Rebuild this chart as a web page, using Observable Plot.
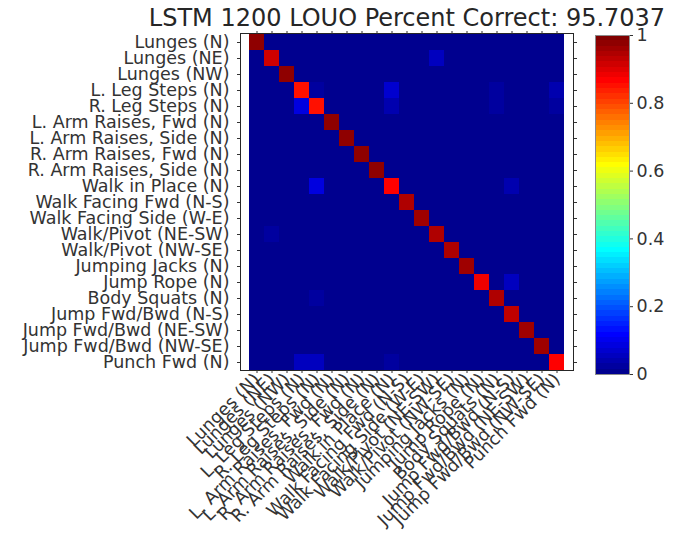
<!DOCTYPE html>
<html>
<head>
<meta charset="utf-8">
<script src="https://cdn.jsdelivr.net/npm/d3@7"></script>
<script src="https://cdn.jsdelivr.net/npm/@observablehq/plot@0.6"></script>
<style>
  html, body { margin: 0; padding: 0; background: #fff; }
  #wrap { position: relative; width: 687px; height: 543px; overflow: hidden; font-family: "DejaVu Sans", sans-serif; }
  #title { position: absolute; left: 107px; width: 600px; top: 4px; text-align: center; font-size: 24px; color: #262626; white-space: nowrap; }
  #main { position: absolute; left: 0; top: 0; }
  #cbar { position: absolute; left: 590px; top: 0; }
</style>
</head>
<body>
<div id="wrap">
  <div id="main"></div>
  <div id="cbar"></div>
  <div id="title"></div>
</div>
<script>
const titleText = "LSTM 1200 LOUO Percent Correct: 95.7037";
const labels = [
  "Lunges (N)", "Lunges (NE)", "Lunges (NW)", "L. Leg Steps (N)", "R. Leg Steps (N)",
  "L. Arm Raises, Fwd (N)", "L. Arm Raises, Side (N)", "R. Arm Raises, Fwd (N)", "R. Arm Raises, Side (N)",
  "Walk in Place (N)", "Walk Facing Fwd (N-S)", "Walk Facing Side (W-E)", "Walk/Pivot (NE-SW)",
  "Walk/Pivot (NW-SE)", "Jumping Jacks (N)", "Jump Rope (N)", "Body Squats (N)", "Jump Fwd/Bwd (N-S)",
  "Jump Fwd/Bwd (NE-SW)", "Jump Fwd/Bwd (NW-SE)", "Punch Fwd (N)"
];
const diagValues = [0.97, 0.92, 0.97, 0.85, 0.85, 0.97, 0.97, 0.97, 0.97, 0.86, 0.95,
                    0.96, 0.94, 0.95, 0.96, 0.88, 0.94, 0.93, 0.96, 0.96, 0.86];
const offRows   = [1,    3,    3,    3,    3,    4,    4,    4,    4,    9,    9,    12,   15,   16,   20,   20,   20];
const offCols   = [12,   4,    9,    16,   20,   3,    9,    16,   20,   4,    17,   1,    17,   4,    3,    4,    9];
const offValues = [0.06, 0.02, 0.07, 0.03, 0.04, 0.09, 0.04, 0.02, 0.03, 0.09, 0.04, 0.03, 0.05, 0.02, 0.05, 0.05, 0.03];
const colorTicks = [0, 0.2, 0.4, 0.6, 0.8, 1];

// MATLAB jet(64) colormap
function makeJet(m) {
  const n = Math.ceil(m / 4);
  const u = [];
  for (let i = 1; i <= n; i++) u.push(i / n);
  for (let i = 0; i < n - 1; i++) u.push(1);
  for (let i = n; i >= 1; i--) u.push(i / n);
  const gOff = Math.ceil(n / 2) - (m % 4 === 1 ? 1 : 0);
  const J = Array.from({length: m}, () => [0, 0, 0]);
  for (let k = 0; k < u.length; k++) {
    const g = gOff + k + 1, r = g + n, b = g - n;
    if (g >= 1 && g <= m) J[g - 1][1] = u[k];
    if (r >= 1 && r <= m) J[r - 1][0] = u[k];
    if (b >= 1 && b <= m) J[b - 1][2] = u[k];
  }
  return J.map(([r, g, b]) => d3.rgb(r * 255, g * 255, b * 255).formatHex());
}
const jet = makeJet(64);
const jetInterp = t => jet[Math.max(0, Math.min(63, Math.floor(t * 64)))];
const colorScale = {type: "linear", domain: [0, 1], interpolate: jetInterp};

const cells = [];
labels.forEach((rl, r) => {
  labels.forEach((cl, c) => {
    let v = 0;
    if (r === c) v = diagValues[r];
    else {
      for (let k = 0; k < offRows.length; k++) if (offRows[k] === r && offCols[k] === c) v = offValues[k];
    }
    cells.push({row: rl, col: cl, value: v});
  });
});

const ink = "#333333";
const main = Plot.plot({
  width: 590, height: 543,
  marginLeft: 240, marginRight: 17, marginTop: 33, marginBottom: 173,
  style: {fontFamily: "DejaVu Sans, sans-serif", fontSize: "17.5px", color: ink, background: "transparent"},
  x: {domain: labels, padding: 0},
  y: {domain: labels, padding: 0},
  color: colorScale,
  marks: [
    Plot.cell(cells, {x: "col", y: "row", fill: "value", inset: 0, shapeRendering: "crispEdges"}),
    Plot.frame({stroke: "#262626", strokeWidth: 1}),
    Plot.axisX({anchor: "bottom", tickRotate: -45, tickSize: 3, tickPadding: 3, label: null, fontSize: 17.5}),
    Plot.axisX({anchor: "top", tickSize: 3, tickFormat: () => "", label: null}),
    Plot.axisY({anchor: "left", tickSize: 3, tickPadding: 8, label: null, fontSize: 17.5}),
    Plot.axisY({anchor: "right", tickSize: 3, tickFormat: () => "", label: null})
  ]
});
document.getElementById("main").appendChild(main);

const bands = d3.range(64).map(i => ({lo: i / 64, hi: (i + 1) / 64, v: (i + 0.5) / 64}));
const cbar = Plot.plot({
  width: 97, height: 543,
  marginLeft: 5, marginRight: 58, marginTop: 35, marginBottom: 169,
  style: {fontFamily: "DejaVu Sans, sans-serif", fontSize: "17.5px", color: ink, background: "transparent"},
  x: {domain: [0, 1], axis: null},
  y: {domain: [0, 1]},
  color: colorScale,
  marks: [
    Plot.rect(bands, {x1: () => 0, x2: () => 1, y1: "lo", y2: "hi", fill: "v", shapeRendering: "crispEdges"}),
    Plot.frame({stroke: "#8c8c8c", strokeWidth: 1}),
    Plot.axisY(colorTicks, {anchor: "right", tickSize: 3, tickPadding: 4, label: null, fontSize: 17.5,
      tickFormat: d => String(+d.toFixed(1))})
  ]
});
document.getElementById("cbar").appendChild(cbar);

document.getElementById("title").textContent = titleText;
</script>
</body>
</html>
